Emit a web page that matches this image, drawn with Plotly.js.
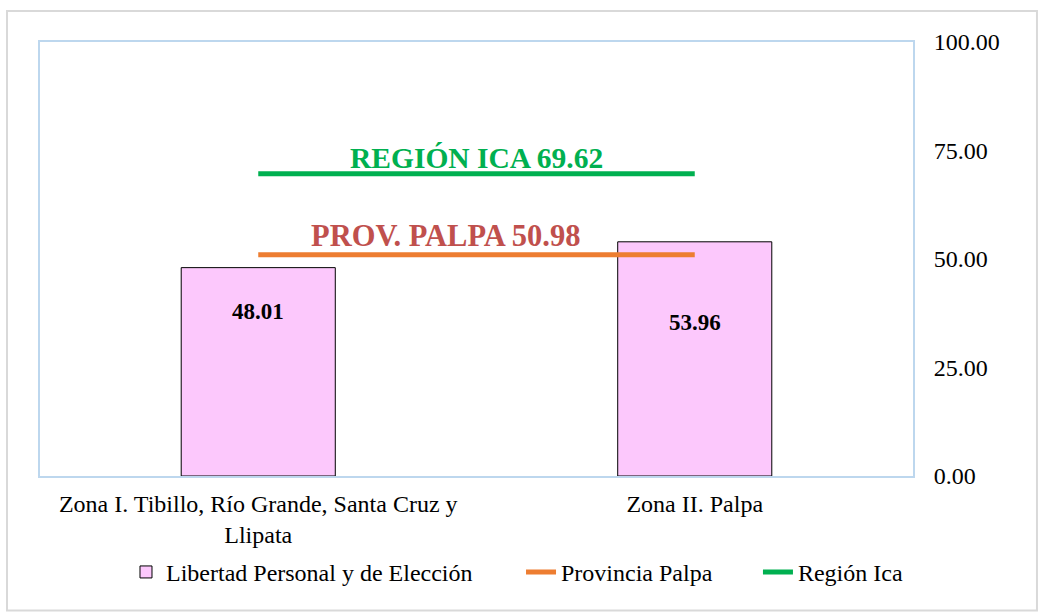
<!DOCTYPE html>
<html>
<head>
<meta charset="utf-8">
<script src="https://cdn.plot.ly/plotly-3.0.1.min.js"></script>
<style>
html,body{margin:0;padding:0;background:#fcfcfc;}
#chart{width:1039px;height:612px;}
</style>
</head>
<body>
<div id="chart"></div>
<script>
const categories = ["Zona I. Tibillo, Río Grande, Santa Cruz y<br>Llipata", "Zona II. Palpa"];
const libertad = [48.01, 53.96];
const provinciaPalpa = [50.98, 50.98];
const regionIca = [69.62, 69.62];
const tickVals = [0, 25, 50, 75, 100];
const tickText = ["0.00", "25.00", "50.00", "75.00", "100.00"];

const serif = "Liberation Serif, Times New Roman, serif";

const traces = [
  {
    type: "bar", name: "Libertad Personal y de Elección", legend: "legend",
    x: categories, y: libertad, width: 0.353,
    marker: {color: "#FCC8FC", line: {color: "#000000", width: 1}},
    hoverinfo: "skip"
  },
  {
    type: "scatter", mode: "lines", name: "Provincia Palpa", legend: "legend2",
    x: categories, y: provinciaPalpa,
    line: {color: "#ED7D31", width: 5}
  },
  {
    type: "scatter", mode: "lines", name: "Región Ica", legend: "legend3",
    x: categories, y: regionIca,
    line: {color: "#00B050", width: 5}
  }
];

const legendBase = {
  orientation: "h", xanchor: "left", y: -0.222, yanchor: "middle",
  font: {family: serif, size: 24, color: "#000000"}, bgcolor: "rgba(0,0,0,0)"
};

const layout = {
  width: 1039, height: 612,
  margin: {l: 40, r: 126, t: 42, b: 136},
  paper_bgcolor: "#ffffff", plot_bgcolor: "#ffffff",
  font: {family: serif, size: 24, color: "#000000"},
  showlegend: true,
  xaxis: {
    type: "category", range: [-0.5, 1.5],
    showline: true, mirror: true, linecolor: "#BDD7EE", linewidth: 2,
    showgrid: false, zeroline: false, ticks: "", ticklabelstandoff: 5,
    tickfont: {family: serif, size: 24}
  },
  yaxis: {
    side: "right", range: [0, 100], tickvals: tickVals, ticktext: tickText,
    showline: true, mirror: true, linecolor: "#BDD7EE", linewidth: 2,
    showgrid: false, zeroline: false, ticks: "", ticklabelstandoff: 14,
    tickfont: {family: serif, size: 24}
  },
  legend: Object.assign({}, legendBase, {x: 0.0985}),
  legend2: Object.assign({}, legendBase, {x: 0.5510}),
  legend3: Object.assign({}, legendBase, {x: 0.8224}),
  annotations: [
    {x: 0.5, y: 73.3, xref: "x", yref: "y", text: "<b>REGIÓN ICA " + regionIca[0].toFixed(2) + "</b>",
     showarrow: false, font: {family: serif, size: 29.5, color: "#00B050"}},
    {x: 0.43, y: 55.3, xref: "x", yref: "y", text: "<b>PROV. PALPA " + provinciaPalpa[0].toFixed(2) + "</b>",
     showarrow: false, font: {family: serif, size: 30.5, color: "#C0504D"}},
    {x: 0, y: 37.8, xref: "x", yref: "y", text: "<b>" + libertad[0].toFixed(2) + "</b>",
     showarrow: false, font: {family: serif, size: 23, color: "#000000"}},
    {x: 1, y: 35.3, xref: "x", yref: "y", text: "<b>" + libertad[1].toFixed(2) + "</b>",
     showarrow: false, font: {family: serif, size: 23, color: "#000000"}}
  ],
  shapes: [
    {type: "rect", xref: "paper", yref: "paper",
     x0: -0.0378, x1: 1.142, y0: -0.31, y1: 1.0714,
     line: {color: "#D9D9D9", width: 2}, fillcolor: "rgba(0,0,0,0)", layer: "below"}
  ]
};

Plotly.newPlot("chart", traces, layout, {displayModeBar: false, staticPlot: true});
</script>
</body>
</html>
